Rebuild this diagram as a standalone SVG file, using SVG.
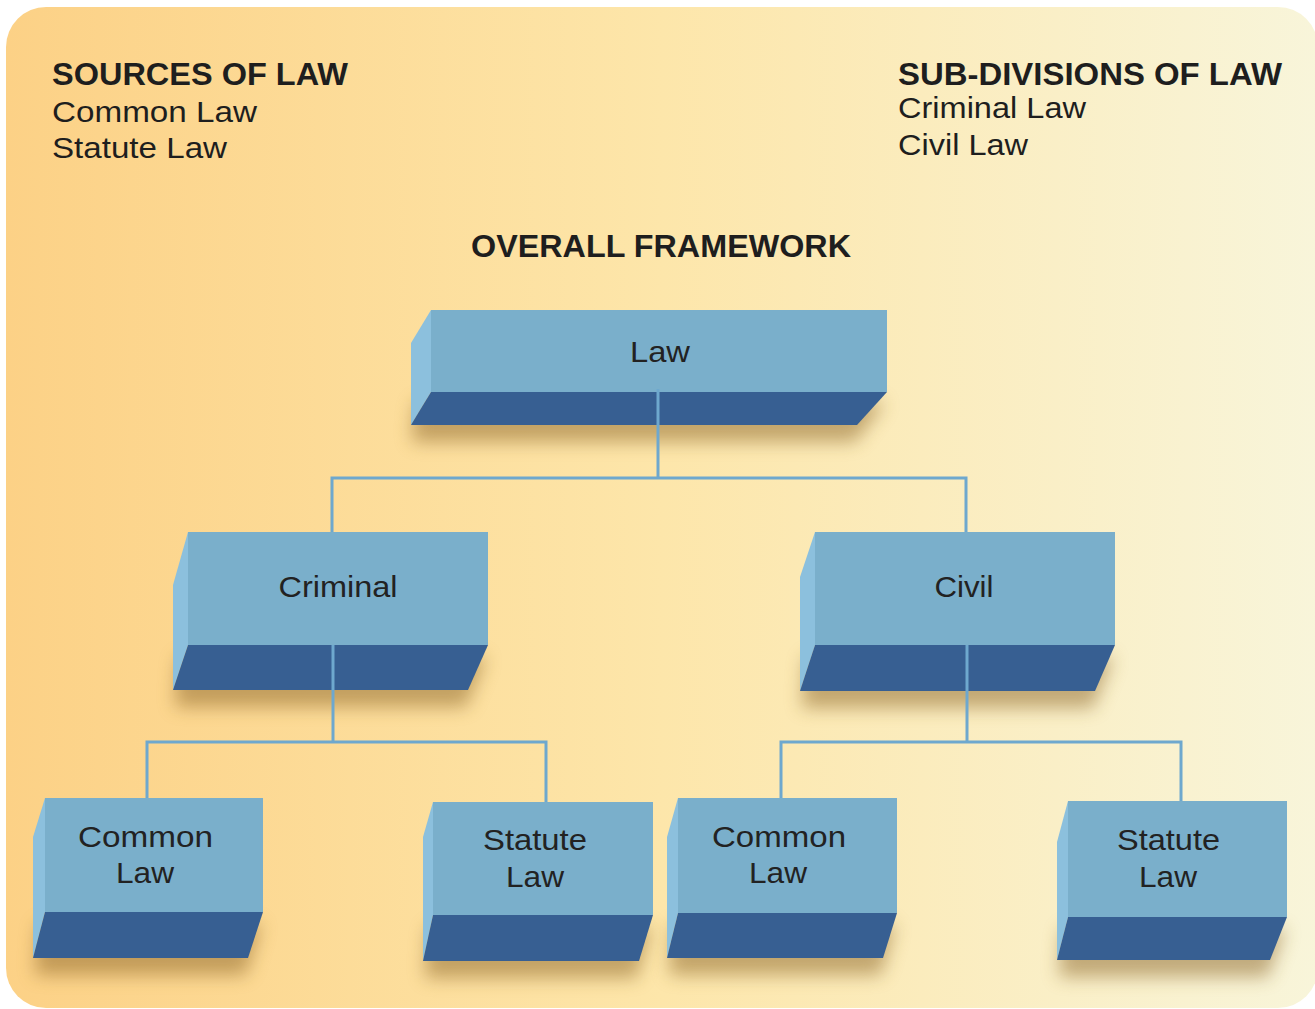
<svg xmlns="http://www.w3.org/2000/svg" width="1315" height="1009" viewBox="0 0 1315 1009">
<defs>
<linearGradient id="bg" x1="0" y1="0" x2="1" y2="0">
<stop offset="0" stop-color="#FCD186"/>
<stop offset="0.5" stop-color="#FDE6AA"/>
<stop offset="1" stop-color="#F8F5DA"/>
</linearGradient>
<filter id="blur" x="-20%" y="-50%" width="140%" height="200%"><feGaussianBlur stdDeviation="9"/></filter>
<style>
.front{fill:#7AAFCB}
.side{fill:#8CC0DD}
.bottom{fill:#375F92}
.shadow{fill:#8A6428;opacity:0.5;filter:url(#blur)}
.lbl{font-family:"Liberation Sans",Arial,sans-serif;font-size:30px;fill:#222;text-anchor:middle}
.hd{font-family:"Liberation Sans",Arial,sans-serif;font-size:30px;fill:#1e1e1e}
.b{font-weight:bold;font-size:31px}
.conn{stroke:#6EA8CE;stroke-width:3;fill:none}
</style>
</defs>
<rect x="0" y="0" width="1315" height="1009" fill="#ffffff"/>
<rect x="6" y="7" width="1312" height="1001" rx="40" fill="url(#bg)"/>

<g id="headers">
<text class="hd b" x="52" y="85" textLength="296" lengthAdjust="spacingAndGlyphs">SOURCES OF LAW</text>
<text class="hd" x="52" y="122" textLength="205" lengthAdjust="spacingAndGlyphs">Common Law</text>
<text class="hd" x="52" y="158" textLength="175" lengthAdjust="spacingAndGlyphs">Statute Law</text>
<text class="hd b" x="898" y="85" textLength="384" lengthAdjust="spacingAndGlyphs">SUB-DIVISIONS OF LAW</text>
<text class="hd" x="898" y="118" textLength="188" lengthAdjust="spacingAndGlyphs">Criminal Law</text>
<text class="hd" x="898" y="155" textLength="130" lengthAdjust="spacingAndGlyphs">Civil Law</text>
<text class="hd b" x="471" y="257" textLength="380" lengthAdjust="spacingAndGlyphs">OVERALL FRAMEWORK</text>
</g>

<g id="node-law">
<polygon class="shadow" points="415,402 885,402 855,442 412,442"/>
<rect class="front" x="431" y="310" width="456" height="82"/>
<polygon class="side" points="431,310 411,343 411,425 431,392"/>
<polygon class="bottom" points="431,392 887,392 857,425 411,425"/>
<text class="lbl" x="660" y="362" textLength="60" lengthAdjust="spacingAndGlyphs">Law</text>
</g>

<g id="node-criminal">
<polygon class="shadow" points="178,657 486,657 466,707 175,707"/>
<rect class="front" x="188" y="532" width="300" height="113"/>
<polygon class="side" points="188,532 173,585 173,690 188,645"/>
<polygon class="bottom" points="188,645 488,645 468,690 173,690"/>
<text class="lbl" x="338" y="597" textLength="119" lengthAdjust="spacingAndGlyphs">Criminal</text>
</g>

<g id="node-civil">
<polygon class="shadow" points="805,657 1113,657 1093,708 802,708"/>
<rect class="front" x="815" y="532" width="300" height="113"/>
<polygon class="side" points="815,532 800,577 800,691 815,645"/>
<polygon class="bottom" points="815,645 1115,645 1095,691 800,691"/>
<text class="lbl" x="964" y="597" textLength="59" lengthAdjust="spacingAndGlyphs">Civil</text>
</g>

<g id="node-crim-common">
<polygon class="shadow" points="38,924 261,924 246,975 35,975"/>
<rect class="front" x="45" y="798" width="218" height="114"/>
<polygon class="side" points="45,798 33,837 33,958 45,912"/>
<polygon class="bottom" points="45,912 263,912 248,958 33,958"/>
<text class="lbl" x="145.5" y="847" textLength="135" lengthAdjust="spacingAndGlyphs">Common</text>
<text class="lbl" x="145" y="883" textLength="58" lengthAdjust="spacingAndGlyphs">Law</text>
</g>

<g id="node-crim-statute">
<polygon class="shadow" points="428,927 651,927 637,978 425,978"/>
<rect class="front" x="433" y="802" width="220" height="113"/>
<polygon class="side" points="433,802 423,837 423,961 433,915"/>
<polygon class="bottom" points="433,915 653,915 639,961 423,961"/>
<text class="lbl" x="535" y="850" textLength="104" lengthAdjust="spacingAndGlyphs">Statute</text>
<text class="lbl" x="535" y="887" textLength="58" lengthAdjust="spacingAndGlyphs">Law</text>
</g>

<g id="node-civil-common">
<polygon class="shadow" points="672,925 895,925 881,975 669,975"/>
<rect class="front" x="678" y="798" width="219" height="115"/>
<polygon class="side" points="678,798 667,837 667,958 678,913"/>
<polygon class="bottom" points="678,913 897,913 883,958 667,958"/>
<text class="lbl" x="779" y="847" textLength="134" lengthAdjust="spacingAndGlyphs">Common</text>
<text class="lbl" x="778" y="883" textLength="58" lengthAdjust="spacingAndGlyphs">Law</text>
</g>

<g id="node-civil-statute">
<polygon class="shadow" points="1062,929 1285,929 1268,977 1059,977"/>
<rect class="front" x="1068" y="801" width="219" height="116"/>
<polygon class="side" points="1068,801 1057,842 1057,960 1068,917"/>
<polygon class="bottom" points="1068,917 1287,917 1270,960 1057,960"/>
<text class="lbl" x="1168.5" y="850" textLength="103" lengthAdjust="spacingAndGlyphs">Statute</text>
<text class="lbl" x="1168" y="887" textLength="58" lengthAdjust="spacingAndGlyphs">Law</text>
</g>

<g id="connectors">
<polyline class="conn" points="658,389 658,478"/>
<polyline class="conn" points="332,532 332,478 966,478 966,532"/>
<polyline class="conn" points="333,645 333,742"/>
<polyline class="conn" points="147,798 147,742 546,742 546,802"/>
<polyline class="conn" points="967,645 967,742"/>
<polyline class="conn" points="781,798 781,742 1181,742 1181,801"/>
</g>
</svg>
